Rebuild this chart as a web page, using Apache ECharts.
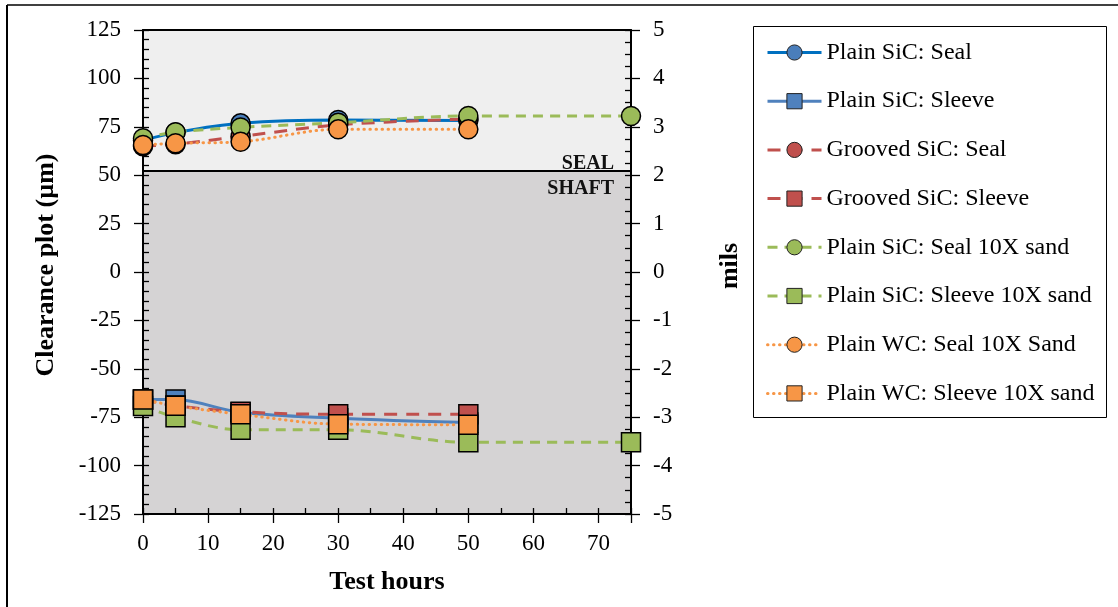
<!DOCTYPE html>
<html>
<head>
<meta charset="utf-8">
<script src="https://cdn.jsdelivr.net/npm/echarts@6/dist/echarts.min.js"></script>
<style>
  html, body { margin: 0; padding: 0; background: #fff; }
  #chart { width: 1118px; height: 607px; }
</style>
</head>
<body>
<div id="chart"></div>
<script>
// Test hours at which clearances were measured
const hours = [0, 5, 15, 30, 50];
const hoursSand = [0, 5, 15, 30, 50, 75];

// Clearance values (µm): seal side positive, sleeve/shaft side negative
const plainSicSeal = [68, 72, 76.8, 78.5, 78.2];
const plainSicSleeve = [-65.8, -65.9, -72.5, -75.5, -77.8];
const groovedSicSeal = [65, 66, 70, 76, 79];
const groovedSicSleeve = [-66, -69, -72.2, -73.5, -73.5];
const plainSicSealSand = [69.1, 72.2, 74.7, 77.1, 80.6, 80.6];
const plainSicSleeveSand = [-69.2, -75, -81.5, -81.5, -88, -88];
const plainWcSealSand = [65.6, 66.5, 67.3, 73.7, 73.7];
const plainWcSleeveSand = [-65.8, -69.1, -73.5, -78.6, -78.9];

// Seal / shaft interface level (µm)
const sealBoundary = 52.5;

// Tick labels
const hourTicks = ['0', '10', '20', '30', '40', '50', '60', '70'];
const umTicks = ['-125', '-100', '-75', '-50', '-25', '0', '25', '50', '75', '100', '125'];
const milTicks = ['-5', '-4', '-3', '-2', '-1', '0', '1', '2', '3', '4', '5'];

const FONT = 'Liberation Serif';
const pairs = (xs, ys) => ys.map((y, i) => [xs[i], y]);

const seriesDefs = [
  { name: 'Plain SiC: Seal', x: hours, y: plainSicSeal, line: '#0070c0', fill: '#4a7ebb', symbol: 'circle', dash: 'solid' },
  { name: 'Plain SiC: Sleeve', x: hours, y: plainSicSleeve, line: '#4f81bd', fill: '#4f81bd', symbol: 'rect', dash: 'solid' },
  { name: 'Grooved SiC: Seal', x: hours, y: groovedSicSeal, line: '#c0504d', fill: '#c0504d', symbol: 'circle', dash: [13, 9] },
  { name: 'Grooved SiC: Sleeve', x: hours, y: groovedSicSleeve, line: '#c0504d', fill: '#c0504d', symbol: 'rect', dash: [13, 9] },
  { name: 'Plain SiC: Seal 10X sand', x: hoursSand, y: plainSicSealSand, line: '#9bbb59', fill: '#9bbb59', symbol: 'circle', dash: [10, 7] },
  { name: 'Plain SiC: Sleeve 10X sand', x: hoursSand, y: plainSicSleeveSand, line: '#9bbb59', fill: '#9bbb59', symbol: 'rect', dash: [10, 7] },
  { name: 'Plain WC: Seal 10X Sand', x: hours, y: plainWcSealSand, line: '#f79646', fill: '#f79646', symbol: 'circle', dash: [0.5, 5.5], cap: 'round' },
  { name: 'Plain WC: Sleeve 10X sand', x: hours, y: plainWcSleeveSand, line: '#f79646', fill: '#f79646', symbol: 'rect', dash: [0.5, 5.5], cap: 'round' }
];

const series = seriesDefs.map(d => ({
  name: d.name,
  type: 'line',
  z: 4,
  smooth: 0.35,
  data: pairs(d.x, d.y),
  symbol: d.symbol,
  symbolSize: 19,
  lineStyle: { color: d.line, width: 3, type: d.dash, cap: d.cap || 'butt' },
  itemStyle: { color: d.fill, borderColor: '#000', borderWidth: 1.5 },
  emphasis: { disabled: true }
}));

// Background zones (seal above, shaft below) and the interface line
series.unshift({
  name: 'zones',
  type: 'line',
  data: [],
  silent: true,
  markArea: {
    silent: true,
    data: [
      [
        { name: 'SEAL', yAxis: sealBoundary, itemStyle: { color: '#efefef' },
          label: { position: 'insideBottomRight', distance: 0, offset: [-17, 3] } },
        { yAxis: 125 }
      ],
      [
        { name: 'SHAFT', yAxis: -125, itemStyle: { color: '#d5d3d4' },
          label: { position: 'insideTopRight', distance: 0, offset: [-17, 8] } },
        { yAxis: sealBoundary }
      ]
    ],
    label: { fontFamily: FONT, fontWeight: 'bold', fontSize: 20, color: '#111' }
  },
  markLine: {
    silent: true,
    symbol: 'none',
    label: { show: false },
    lineStyle: { color: '#000', width: 2, type: 'solid' },
    data: [{ yAxis: sealBoundary }]
  }
});

const axisText = { fontFamily: FONT, fontSize: 23, color: '#000' };
const nameText = { fontFamily: FONT, fontSize: 26, fontWeight: 'bold', color: '#000' };
const blackLine = { onZero: false, lineStyle: { color: '#000', width: 2 } };
const hiddenLine = { show: false, onZero: false };
const tickStyle = { color: '#000', width: 1.3 };

const option = {
  animation: false,
  backgroundColor: '#fff',
  grid: { left: 143, top: 30, right: 487, bottom: 93 },
  legend: {
    orient: 'vertical',
    left: 766,
    top: 40.5,
    padding: 0,
    itemWidth: 54,
    itemHeight: 19,
    itemGap: 24.7,
    data: seriesDefs.map(d => d.name),
    textStyle: { fontFamily: FONT, fontSize: 24, color: '#000' },
    itemStyle: { borderWidth: 1, borderColor: '#222' },
    lineStyle: { width: 3 }
  },
  xAxis: [
    {
      type: 'value', min: 0, max: 75, interval: 10, position: 'bottom', z: 3,
      axisLine: blackLine,
      axisTick: { inside: false, length: 9, lineStyle: tickStyle },
      axisLabel: Object.assign({ margin: 18, formatter: v => hourTicks.includes(String(v)) ? String(v) : '' }, axisText),
      splitLine: { show: false },
      name: 'Test hours', nameLocation: 'middle', nameGap: 55, nameTextStyle: nameText
    },
    {
      type: 'value', min: 0, max: 75, interval: 5, position: 'bottom', z: 3,
      axisLine: hiddenLine,
      axisTick: { inside: true, length: 6, lineStyle: tickStyle },
      axisLabel: { show: false }, splitLine: { show: false }
    },
    {
      type: 'value', min: 0, max: 75, position: 'top', z: 3,
      axisLine: blackLine, axisTick: { show: false },
      axisLabel: { show: false }, splitLine: { show: false }
    }
  ],
  yAxis: [
    {
      type: 'value', min: -125, max: 125, interval: 25, position: 'left', z: 3,
      axisLine: blackLine,
      axisTick: { inside: false, length: 9, lineStyle: tickStyle },
      axisLabel: Object.assign({ margin: 22, formatter: v => umTicks.includes(String(v)) ? String(v) : '' }, axisText),
      splitLine: { show: false },
      name: 'Clearance plot (µm)', nameLocation: 'middle', nameGap: 84,
      nameTextStyle: Object.assign({ padding: [0, 0, 0, 14] }, nameText)
    },
    {
      type: 'value', min: -125, max: 125, interval: 5, position: 'left', z: 3,
      axisLine: hiddenLine,
      axisTick: { inside: true, length: 6, lineStyle: tickStyle },
      axisLabel: { show: false }, splitLine: { show: false }
    },
    {
      type: 'value', min: -5, max: 5, interval: 1, position: 'right', z: 3,
      axisLine: blackLine,
      axisTick: { inside: false, length: 9, lineStyle: tickStyle },
      axisLabel: Object.assign({ margin: 22, formatter: v => milTicks.includes(String(v)) ? String(v) : '' }, axisText),
      splitLine: { show: false },
      name: 'mils', nameLocation: 'middle', nameGap: 86,
      nameTextStyle: Object.assign({ padding: [0, 0, 0, 12] }, nameText)
    },
    {
      type: 'value', min: -5, max: 5, interval: 0.25, position: 'right', z: 3,
      axisLine: hiddenLine,
      axisTick: { inside: true, length: 6, lineStyle: tickStyle },
      axisLabel: { show: false }, splitLine: { show: false }
    }
  ],
  graphic: [
    { type: 'line', silent: true, shape: { x1: 7, y1: 5, x2: 1118, y2: 5 }, style: { stroke: '#000', lineWidth: 1.5 } },
    { type: 'line', silent: true, shape: { x1: 7, y1: 5, x2: 7, y2: 607 }, style: { stroke: '#000', lineWidth: 2 } },
    { type: 'rect', silent: true, shape: { x: 753.5, y: 26.5, width: 353, height: 391 }, style: { fill: 'none', stroke: '#000', lineWidth: 1 } }
  ],
  series: series
};

const chart = echarts.init(document.getElementById('chart'), null, { renderer: 'canvas' });
chart.setOption(option);
</script>
</body>
</html>
